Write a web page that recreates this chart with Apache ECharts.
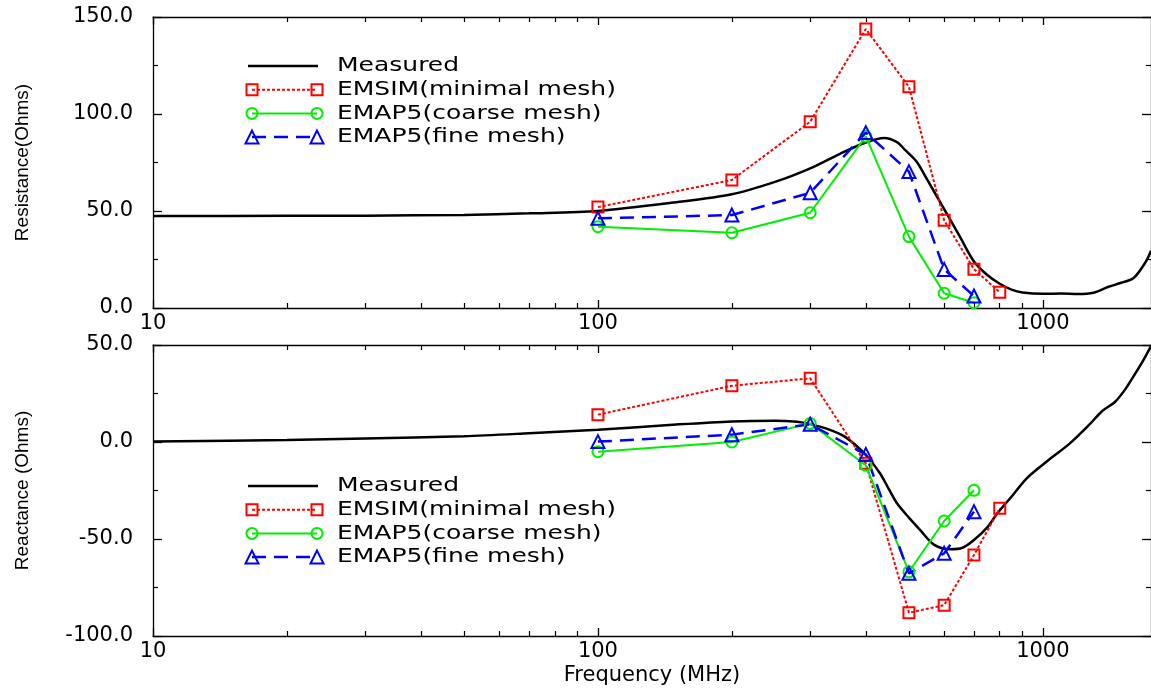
<!DOCTYPE html>
<html>
<head>
<meta charset="utf-8">
<script src="https://cdn.jsdelivr.net/npm/echarts@6/dist/echarts.min.js"></script>
<style>
  html, body { margin: 0; padding: 0; background: #fff; }
  #chart { width: 1151px; height: 693px; }
</style>
</head>
<body>
<div id="chart"></div>
<script>
// simulated points (MHz)
const simFreq = [100, 200, 300, 400, 500, 600, 700, 800];

// resistance (Ohms)
const rEmsim  = [52, 66, 96, 143.8, 114, 45.2, 20, 8.1];
const rCoarse = [41.9, 38.8, 49.1, 88.5, 36.8, 7.6, 2.7];
const rFine   = [46.2, 47.9, 59.4, 90.4, 70.3, 19.9, 6.2];

// reactance (Ohms)
const xEmsim  = [14.1, 29.0, 32.8, -11, -88, -84.1, -58.3, -34.2];
const xCoarse = [-5, 0, 9.6, -12, -66.9, -40.7, -24.9];
const xFine   = [0.2, 3.8, 9.1, -6.4, -67.7, -57.4, -35.9];

// measured curves
const measFreqR = [10, 20, 30, 50, 70, 100, 150, 200, 250, 300, 350, 400, 440, 470, 490, 520, 550, 600,
                   650, 700, 750, 800, 850, 900, 1000, 1100, 1200, 1300, 1400, 1500, 1600, 1700, 1750];
const measR = [47.4, 47.5, 47.6, 48.0, 48.8, 50.0, 54.5, 58.6, 65, 72, 79.5, 85.3, 87.6, 85.5, 81.5, 75.5, 66, 51,
               37, 24, 17, 12.5, 9.5, 8, 7.3, 7.5, 7.2, 7.9, 10.8, 13, 15.5, 23.5, 29.5];
const measFreqX = [10, 20, 30, 50, 70, 100, 150, 200, 250, 280, 300, 330, 360, 400, 430, 450, 470, 500, 530, 570,
                   620, 660, 700, 750, 790, 850, 920, 1020, 1150, 1270, 1360, 1450, 1530, 1600, 1680, 1750];
const measX = [0.3, 1.0, 1.8, 3.0, 4.5, 6.3, 9.0, 10.6, 11.0, 10.4, 9.2, 6.5, 2.5, -6.7, -16, -24, -31.6, -39, -45.4, -53,
               -55.3, -54.5, -50.5, -44, -36.8, -28.2, -18.7, -10.1, -0.7, 8.8, 16, 20.5, 27, 34, 42, 49.5];

// axes
const xMajorTicks = [10, 100, 1000];
const xMinorTicks = [20, 30, 40, 50, 60, 70, 80, 90, 200, 300, 400, 500, 600, 700, 800, 900];
const xMin = 10, xMax = 1750;

const names = ['Measured', 'EMSIM(minimal mesh)', 'EMAP5(coarse mesh)', 'EMAP5(fine mesh)'];
const looks = [
  { color: '#000000', width: 2.5, type: 'solid', symbol: 'none', size: 0 },
  { color: '#ff0000', width: 2, type: [3, 2], symbol: 'rect', size: 11 },
  { color: '#00ee00', width: 2, type: 'solid', symbol: 'circle', size: 11 },
  { color: '#0000ff', width: 2.5, type: [14, 8], symbol: 'triangle', size: 13 }
];

const pairs = (xs, ys) => ys.map((y, i) => [xs[i], y]);
const font = '"DejaVu Sans", sans-serif';

function grid(top) {
  return { left: 153, right: 0, top: top, height: 291 };
}

function xAxes(gi, withName) {
  const base = { type: 'log', logBase: 10, gridIndex: gi, min: xMin, max: xMax, splitLine: { show: false } };
  const line = { onZero: false, lineStyle: { color: '#000', width: 1.3 } };
  return [
    Object.assign({}, base, {
      position: 'bottom',
      name: withName ? 'Frequency (MHz)' : '',
      nameLocation: 'middle',
      nameGap: 29,
      nameTextStyle: { fontSize: 21, fontFamily: font, color: '#000' },
      axisLine: line,
      axisTick: { inside: true, length: 8, customValues: xMajorTicks, lineStyle: { color: '#000', width: 1.3 } },
      axisLabel: { customValues: xMajorTicks, margin: 5, fontSize: 21, fontFamily: font, color: '#000',
                   formatter: v => String(Math.round(v)) }
    }),
    Object.assign({}, base, {
      position: 'top',
      axisLine: line,
      axisTick: { inside: true, length: 8, customValues: xMajorTicks, lineStyle: { color: '#000', width: 1.3 } },
      axisLabel: { show: false }
    }),
    Object.assign({}, base, {
      position: 'bottom',
      axisLine: { show: false, onZero: false },
      axisTick: { inside: true, length: 5, customValues: xMinorTicks, lineStyle: { color: '#000', width: 1.2 } },
      axisLabel: { show: false }
    }),
    Object.assign({}, base, {
      position: 'top',
      axisLine: { show: false, onZero: false },
      axisTick: { inside: true, length: 5, customValues: xMinorTicks, lineStyle: { color: '#000', width: 1.2 } },
      axisLabel: { show: false }
    })
  ];
}

function yAxes(gi, min, max, name) {
  const base = {
    type: 'value', gridIndex: gi, min: min, max: max, interval: 50,
    splitLine: { show: false },
    axisLine: { show: true, lineStyle: { color: '#000', width: 1.3 } },
    axisTick: { inside: true, length: 9, lineStyle: { color: '#000', width: 1.3 } },
    minorTick: { show: true, splitNumber: 2, length: 5, lineStyle: { color: '#000', width: 1.2 } }
  };
  return [
    Object.assign({}, base, {
      position: 'left',
      name: name,
      nameLocation: 'middle',
      nameRotate: 90,
      nameGap: 121,
      nameTextStyle: { fontSize: 19, fontFamily: '"Liberation Sans", sans-serif', color: '#000' },
      axisLabel: { margin: 20, fontSize: 21, fontFamily: font, color: '#000', formatter: v => v.toFixed(1) }
    }),
    Object.assign({}, base, { position: 'right', axisLabel: { show: false } })
  ];
}

function panelSeries(gi, freqM, meas, sims) {
  const xi = gi * 4, yi = gi * 2;
  const out = [{
    type: 'line', name: names[0], xAxisIndex: xi, yAxisIndex: yi,
    data: pairs(freqM, meas), showSymbol: false, symbol: 'none', smooth: 0.3,
    lineStyle: { color: looks[0].color, width: looks[0].width }
  }];
  sims.forEach((vals, k) => {
    const lk = looks[k + 1];
    out.push({
      type: 'line', name: names[k + 1], xAxisIndex: xi, yAxisIndex: yi,
      data: pairs(simFreq, vals), symbol: lk.symbol, symbolSize: lk.size,
      lineStyle: { color: lk.color, width: lk.width, type: lk.type },
      itemStyle: { color: 'rgba(0,0,0,0)', borderColor: lk.color, borderWidth: 2 }
    });
  });
  return out;
}

// legend drawn as graphic rows: line with a marker at each end
function legendRows(y0) {
  const items = [];
  const x1 = 252, x2 = 317, step = 23.7;
  names.forEach((nm, k) => {
    const y = y0 + k * step;
    const lk = looks[k];
    items.push({ type: 'line', shape: { x1: k === 0 ? 248 : x1, y1: y, x2: k === 0 ? 318 : x2, y2: y },
      style: { stroke: lk.color, lineWidth: lk.width, lineDash: lk.type === 'solid' ? null : lk.type } });
    [x1, x2].forEach(cx => {
      const st = { fill: 'rgba(0,0,0,0)', stroke: lk.color, lineWidth: 2 };
      if (lk.symbol === 'rect') {
        items.push({ type: 'rect', shape: { x: cx - 5.5, y: y - 5.5, width: 11, height: 11 }, style: st });
      } else if (lk.symbol === 'circle') {
        items.push({ type: 'circle', shape: { cx: cx, cy: y, r: 5.5 }, style: st });
      } else if (lk.symbol === 'triangle') {
        items.push({ type: 'polygon', shape: { points: [[cx, y - 6.5], [cx + 6.5, y + 6.5], [cx - 6.5, y + 6.5]] }, style: st });
      }
    });
    items.push({ type: 'text', x: 337, y: y, scaleX: 1.25,
      style: { text: nm, fill: '#000', font: '20px ' + font, verticalAlign: 'middle' } });
  });
  return items;
}

const chart = echarts.init(document.getElementById('chart'));
chart.setOption({
  animation: false,
  backgroundColor: '#fff',
  grid: [grid(17), grid(345)],
  xAxis: xAxes(0, false).concat(xAxes(1, true)),
  yAxis: yAxes(0, 0, 150, 'Resistance(Ohms)').concat(yAxes(1, -100, 50, 'Reactance (Ohms)')),
  series: panelSeries(0, measFreqR, measR, [rEmsim, rCoarse, rFine])
    .concat(panelSeries(1, measFreqX, measX, [xEmsim, xCoarse, xFine])),
  graphic: legendRows(66).concat(legendRows(486))
});
</script>
</body>
</html>
